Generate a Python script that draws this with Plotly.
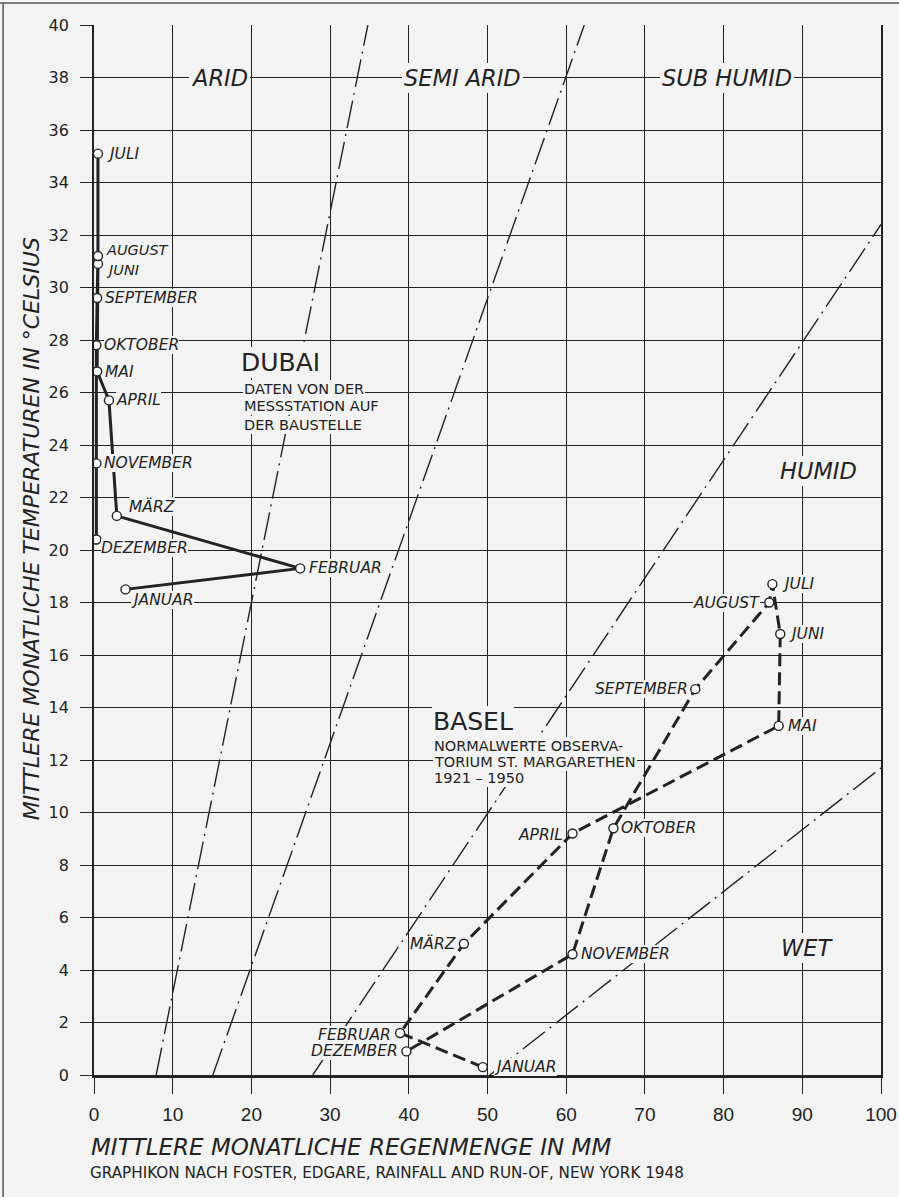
import plotly.graph_objects as go

# ---------------- data ----------------
months = ["JANUAR", "FEBRUAR", "MÄRZ", "APRIL", "MAI", "JUNI", "JULI",
          "AUGUST", "SEPTEMBER", "OKTOBER", "NOVEMBER", "DEZEMBER"]

dubai_rain = [4.0, 26.2, 2.9, 1.9, 0.4, 0.5, 0.5, 0.5, 0.4, 0.3, 0.3, 0.3]
dubai_temp = [18.5, 19.3, 21.3, 25.7, 26.8, 30.9, 35.1, 31.2, 29.6, 27.8, 23.3, 20.4]

basel_rain = [49.4, 38.9, 47.0, 60.8, 87.0, 87.2, 86.2, 85.8, 76.4, 66.0, 60.8, 39.7]
basel_temp = [0.3, 1.6, 5.0, 9.2, 13.3, 16.8, 18.7, 18.0, 14.7, 9.4, 4.6, 0.9]

# climate-zone boundary lines (rain mm, temperature °C at their two ends)
arid_semiarid_x = [7.9, 34.8]
arid_semiarid_y = [0, 40]
semiarid_subhumid_x = [15.1, 62.3]
semiarid_subhumid_y = [0, 40]
subhumid_humid_x = [27.8, 100]
subhumid_humid_y = [0, 32.4]
humid_wet_x = [50.3, 100]
humid_wet_y = [0, 11.7]

zone_names = ["ARID", "SEMI ARID", "SUB HUMID", "HUMID", "WET"]
zone_x = [16.0, 46.8, 80.4, 92.0, 90.6]
zone_y = [38.0, 38.0, 38.0, 23.0, 4.85]

x_ticks = list(range(0, 101, 10))
y_ticks = list(range(0, 41, 2))

# ---------------- style ----------------
BG = "#f3f3f3"
INK = "#222222"
FONT = "DejaVu Sans, Liberation Sans, sans-serif"
TICKX = "Liberation Sans, DejaVu Sans, sans-serif"

fig = go.Figure()

for bx, by in [(arid_semiarid_x, arid_semiarid_y),
               (semiarid_subhumid_x, semiarid_subhumid_y),
               (subhumid_humid_x, subhumid_humid_y),
               (humid_wet_x, humid_wet_y)]:
    fig.add_trace(go.Scatter(x=bx, y=by, mode="lines",
                             line=dict(color=INK, width=1.4, dash="28px,6px,2px,6px"),
                             hoverinfo="skip", showlegend=False))

fig.add_trace(go.Scatter(x=dubai_rain, y=dubai_temp, mode="lines+markers", name="Dubai",
                         line=dict(color=INK, width=3),
                         marker=dict(symbol="circle", size=9, color="white",
                                     line=dict(color=INK, width=1.4)),
                         text=months, showlegend=False))
fig.add_trace(go.Scatter(x=basel_rain, y=basel_temp, mode="lines+markers", name="Basel",
                         line=dict(color=INK, width=3, dash="13px,6px"),
                         marker=dict(symbol="circle", size=9, color="white",
                                     line=dict(color=INK, width=1.4)),
                         text=months, showlegend=False))

ann = []

def label(x, y, text, anchor, xs, ys, size=15.5, bg=BG, italic=True):
    t = f"<i>{text}</i>" if italic else text
    ann.append(dict(x=x, y=y, xref="x", yref="y", text=t, showarrow=False,
                    xanchor=anchor, yanchor="middle", xshift=xs, yshift=ys,
                    font=dict(family=FONT, size=size, color=INK),
                    bgcolor=bg, borderpad=0, borderwidth=0))

# Dubai month labels
dubai_pos = {
    "JANUAR": ("left", 6, -11), "FEBRUAR": ("left", 9, 0), "MÄRZ": ("left", 12, 9),
    "APRIL": ("left", 7, 0), "MAI": ("left", 8, 0), "JUNI": ("left", 8, -6),
    "JULI": ("left", 9, 0), "AUGUST": ("left", 8, 6), "SEPTEMBER": ("left", 8, 0),
    "OKTOBER": ("left", 8, 0), "NOVEMBER": ("left", 8, 0), "DEZEMBER": ("left", 5, -8),
}
for m, x, y in zip(months, dubai_rain, dubai_temp):
    a, xs, ys = dubai_pos[m]
    size = 14.5 if m in ("JUNI", "AUGUST") else 15.5
    bg = "rgba(0,0,0,0)" if m in ("JUNI", "AUGUST") else BG
    label(x, y, m, a, xs, ys, size=size, bg=bg)

basel_pos = {
    "JANUAR": ("left", 11, 0), "FEBRUAR": ("right", -9, -2), "MÄRZ": ("right", -8, 0),
    "APRIL": ("right", -10, -1), "MAI": ("left", 9, 0), "JUNI": ("left", 9, 0),
    "JULI": ("left", 10, 0), "AUGUST": ("right", -9, 0), "SEPTEMBER": ("right", -7, 0),
    "OKTOBER": ("left", 8, 0), "NOVEMBER": ("left", 8, 0), "DEZEMBER": ("right", -8, 0),
}
for m, x, y in zip(months, basel_rain, basel_temp):
    a, xs, ys = basel_pos[m]
    label(x, y, m, a, xs, ys)

# zone names
for n, x, y in zip(zone_names, zone_x, zone_y):
    ann.append(dict(x=x, y=y, xref="x", yref="y", text=f"<i>{n}</i>", showarrow=False,
                    xanchor="center", yanchor="middle",
                    font=dict(family=FONT, size=22.5, color=INK),
                    bgcolor=BG, borderpad=2, borderwidth=0))

# station text blocks
def block(x, y, text, size):
    ann.append(dict(x=x, y=y, xref="x", yref="y", text=text, showarrow=False,
                    xanchor="left", yanchor="middle",
                    font=dict(family=FONT, size=size, color=INK),
                    bgcolor=BG, borderpad=1, borderwidth=0))

block(18.6, 27.16, "DUBAI", 25)
block(18.9, 26.13, "DATEN VON DER", 14.5)
block(18.9, 25.49, "MESSSTATION AUF", 14.5)
block(18.9, 24.76, "DER BAUSTELLE", 14.5)

block(43.0, 13.46, "BASEL", 25)
block(43.1, 12.53, "NORMALWERTE OBSERVA-", 14.5)
block(43.1, 11.94, "TORIUM ST. MARGARETHEN", 14.5)
block(43.1, 11.30, "1921 – 1950", 14.5)

# axis titles
ann.append(dict(x=-0.0796, y=0.52, xref="paper", yref="paper", textangle=-90,
                text="<i>MITTLERE MONATLICHE TEMPERATUREN IN °CELSIUS</i>", showarrow=False,
                xanchor="center", yanchor="middle",
                font=dict(family=FONT, size=22, color=INK)))
ann.append(dict(x=-0.0063, y=-0.0686, xref="paper", yref="paper",
                text="<i>MITTLERE MONATLICHE REGENMENGE IN MM</i>", showarrow=False,
                xanchor="left", yanchor="middle",
                font=dict(family=FONT, size=23, color=INK)))
ann.append(dict(x=-0.0076, y=-0.0933, xref="paper", yref="paper",
                text="GRAPHIKON NACH FOSTER, EDGARE, RAINFALL AND RUN-OF, NEW YORK 1948",
                showarrow=False, xanchor="left", yanchor="middle",
                font=dict(family=FONT, size=15.2, color=INK)))

shapes = [
    dict(type="line", xref="paper", yref="paper", x0=-0.12, x1=1.03, y0=1.021, y1=1.021,
         line=dict(color="#555555", width=1.5)),
    dict(type="line", xref="paper", yref="paper", x0=-0.1155, x1=-0.1155, y0=-0.12, y1=1.021,
         line=dict(color="#555555", width=1.5)),
]

fig.update_layout(
    width=899, height=1197,
    margin=dict(l=94, r=18, t=25, b=122, autoexpand=False),
    paper_bgcolor=BG, plot_bgcolor=BG,
    annotations=ann, shapes=shapes,
    showlegend=False,
    xaxis=dict(range=[0, 100], tickvals=x_ticks, ticktext=[str(v) for v in x_ticks],
               showgrid=True, gridcolor=INK, gridwidth=1.3, zeroline=False,
               showline=True, linecolor=INK, linewidth=2.8, mirror=False,
               ticks="outside", ticklen=16, tickwidth=1.3, tickcolor=INK,
               ticklabelstandoff=4, ticklabeloverflow="allow", automargin=False,
               tickfont=dict(family=TICKX, size=19, color=INK)),
    yaxis=dict(range=[0, 40], tickvals=y_ticks, ticktext=[str(v) for v in y_ticks],
               showgrid=True, gridcolor=INK, gridwidth=1.3, zeroline=False,
               showline=True, linecolor=INK, linewidth=1.8, mirror=True,
               ticks="outside", ticklen=12, tickwidth=1.3, tickcolor=INK,
               ticklabelstandoff=8, automargin=False,
               tickfont=dict(family=FONT, size=16, color=INK)),
)

fig.write_html(
    "out.html",
    config={"displayModeBar": False},
    post_script="document.body.style.margin='0';document.body.style.padding='0';"
                "document.documentElement.style.overflow='hidden';"
                "document.body.style.background='" + BG + "';",
)
